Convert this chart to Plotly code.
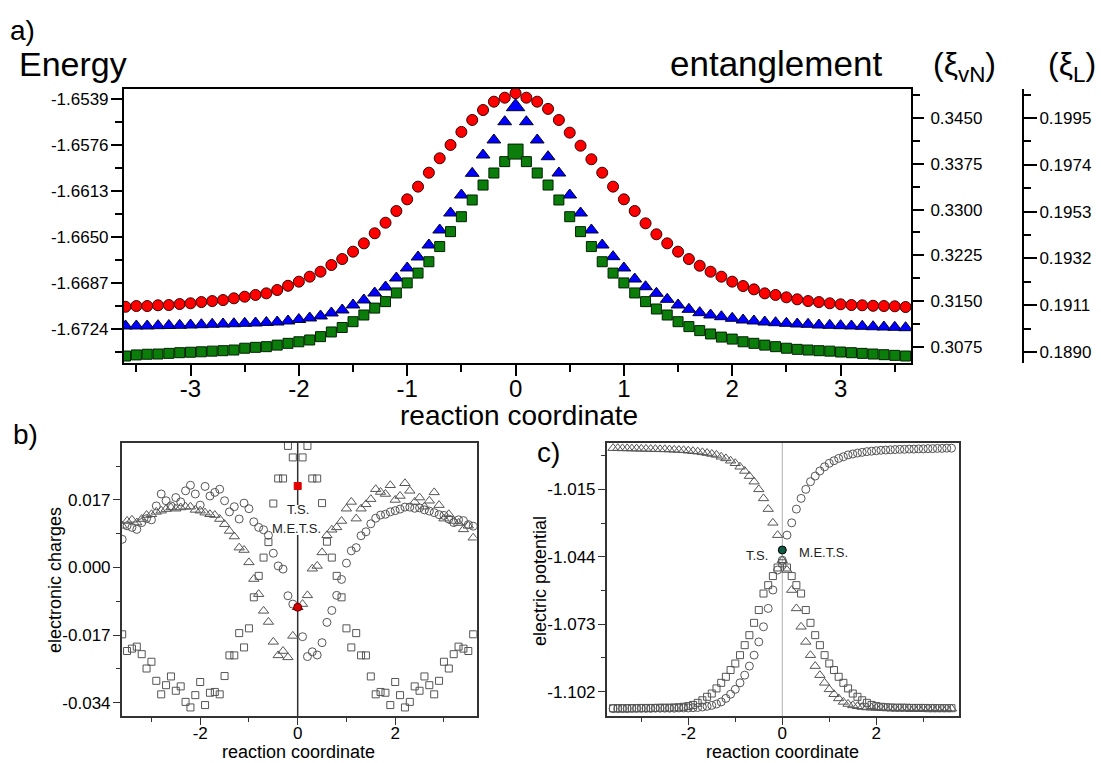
import plotly.graph_objects as go

W, H = 1101, 763
def px(v): return v / W
def py(v): return 1 - v / H

FONT = "Arial, Liberation Sans, sans-serif"

# ---------------- data ----------------
rc = [-3.6, -3.5, -3.4, -3.3, -3.2, -3.1, -3.0, -2.9, -2.8, -2.7, -2.6, -2.5, -2.4,
      -2.3, -2.2, -2.1, -2.0, -1.9, -1.8, -1.7, -1.6, -1.5, -1.4, -1.3, -1.2, -1.1,
      -1.0, -0.9, -0.8, -0.7, -0.6, -0.5, -0.4, -0.3, -0.2, -0.1, 0.0, 0.1, 0.2, 0.3,
      0.4, 0.5, 0.6, 0.7, 0.8, 0.9, 1.0, 1.1, 1.2, 1.3, 1.4, 1.5, 1.6, 1.7, 1.8, 1.9,
      2.0, 2.1, 2.2, 2.3, 2.4, 2.5, 2.6, 2.7, 2.8, 2.9, 3.0, 3.1, 3.2, 3.3, 3.4, 3.5, 3.6]

# panel a
energy = [-1.67061, -1.67055, -1.67055, -1.67049, -1.67047, -1.67039, -1.67033, -1.67023,
          -1.67015, -1.67007, -1.66993, -1.66980, -1.66966, -1.66953, -1.66926, -1.66892,
          -1.66859, -1.66819, -1.66779, -1.66725, -1.66677, -1.66618, -1.66551, -1.66470,
          -1.66385, -1.66291, -1.66197, -1.66095, -1.65983, -1.65867, -1.65760, -1.65655,
          -1.65559, -1.65479, -1.65412, -1.65380, -1.65344,
          -1.65380, -1.65412, -1.65470, -1.65559, -1.65661, -1.65766, -1.65875, -1.65983,
          -1.66095, -1.66197, -1.66291, -1.66390, -1.66478, -1.66551, -1.66618, -1.66677,
          -1.66731, -1.66779, -1.66819, -1.66859, -1.66894, -1.66921, -1.66953, -1.66966,
          -1.66985, -1.67001, -1.67015, -1.67023, -1.67033, -1.67041, -1.67047, -1.67049,
          -1.67053, -1.67055, -1.67057, -1.67063]
xi_vn = [0.31094, 0.31094, 0.31094, 0.31099, 0.31102, 0.31105, 0.31110, 0.31115, 0.31122,
         0.31127, 0.31131, 0.31138, 0.31143, 0.31151, 0.31159, 0.31176, 0.31200, 0.31225,
         0.31258, 0.31307, 0.31356, 0.31438, 0.31520, 0.31634, 0.31732, 0.31880, 0.32044,
         0.32224, 0.32420, 0.32666, 0.32944, 0.33239, 0.33594, 0.33894, 0.34140, 0.34439,
         0.34685,
         0.34439, 0.34140, 0.33866, 0.33599, 0.33239, 0.32944, 0.32666, 0.32420, 0.32229,
         0.32044, 0.31863, 0.31737, 0.31629, 0.31531, 0.31438, 0.31367, 0.31312, 0.31274,
         0.31246, 0.31220, 0.31192, 0.31176, 0.31159, 0.31148, 0.31138, 0.31127, 0.31122,
         0.31110, 0.31105, 0.31099, 0.31094, 0.31089, 0.31082, 0.31077, 0.31073, 0.31066]
xi_l = [0.18882, 0.18887, 0.18890, 0.18891, 0.18894, 0.18897, 0.18899, 0.18901, 0.18904,
        0.18906, 0.18909, 0.18917, 0.18921, 0.18924, 0.18931, 0.18939, 0.18946, 0.18954,
        0.18969, 0.18990, 0.19010, 0.19036, 0.19066, 0.19097, 0.19126, 0.19165, 0.19210,
        0.19254, 0.19305, 0.19373, 0.19440, 0.19507, 0.19582, 0.19649, 0.19703, 0.19754,
        0.19799,
        0.19754, 0.19703, 0.19649, 0.19582, 0.19507, 0.19440, 0.19373, 0.19305, 0.19254,
        0.19210, 0.19165, 0.19126, 0.19093, 0.19066, 0.19036, 0.19014, 0.18996, 0.18981,
        0.18967, 0.18958, 0.18946, 0.18939, 0.18931, 0.18924, 0.18917, 0.18912, 0.18909,
        0.18906, 0.18904, 0.18900, 0.18897, 0.18894, 0.18891, 0.18888, 0.18885, 0.18882]

energy_ticks = [-1.6724, -1.6687, -1.6650, -1.6613, -1.6576, -1.6539]
xi_vn_ticks = [0.3075, 0.3150, 0.3225, 0.3300, 0.3375, 0.3450]
xi_l_ticks = [0.1890, 0.1911, 0.1932, 0.1953, 0.1974, 0.1995]
xa_ticks = [-3, -2, -1, 0, 1, 2, 3]

# panel b (electronic charges)
charge_sq = [-0.0168, -0.0210, -0.0204, -0.0199, -0.0218, -0.0254, -0.0237, -0.0285, -0.0319,
             -0.0296, -0.0274, -0.0310, -0.0299, -0.0338, -0.0352, -0.0321, -0.0288, -0.0346,
             -0.0315, -0.0313, -0.0319, -0.0273, -0.0221, -0.0221, -0.0165, -0.0201, -0.0153,
             -0.0075, -0.0021, 0.0025, 0.0064, 0.0161, 0.0224, 0.0224, 0.0306, 0.0277, 0.0205,
             0.0277, 0.0306, 0.0224, 0.0224, 0.0162, 0.0065, 0.0025, -0.0021, -0.0075, -0.0153,
             -0.0201, -0.0165, -0.0221, -0.0221, -0.0274, -0.0319, -0.0313, -0.0315, -0.0346,
             -0.0288, -0.0321, -0.0352, -0.0338, -0.0299, -0.0310, -0.0274, -0.0296, -0.0319,
             -0.0285, -0.0237, -0.0254, -0.0218, -0.0199, -0.0204, -0.0210, -0.0168]
charge_tri = [0.0105, 0.0117, 0.0120, 0.0113, 0.0122, 0.0132, 0.0134, 0.0140, 0.0143, 0.0147,
              0.0151, 0.0148, 0.0151, 0.0153, 0.0153, 0.0145, 0.0143, 0.0138, 0.0134, 0.0132,
              0.0122, 0.0109, 0.0092, 0.0078, 0.0050, 0.0044, 0.0013, -0.0029, -0.0067, -0.0109,
              -0.0137, -0.0187, -0.0221, -0.0210, -0.0226, -0.0172, -0.0100,
              -0.0092, -0.0070, -0.0003, 0.0004, 0.0038, 0.0081, 0.0095, 0.0101, 0.0117, 0.0148,
              0.0165, 0.0123, 0.0148, 0.0159, 0.0172, 0.0197, 0.0190, 0.0185, 0.0207, 0.0170,
              0.0180, 0.0212, 0.0193, 0.0165, 0.0176, 0.0153, 0.0168, 0.0189, 0.0157, 0.0123,
              0.0134, 0.0117, 0.0112, 0.0096, 0.0105, 0.0075]
charge_circ = [0.0071, 0.0105, 0.0101, 0.0096, 0.0113, 0.0123, 0.0120, 0.0155, 0.0185, 0.0168,
               0.0155, 0.0176, 0.0165, 0.0193, 0.0207, 0.0185, 0.0157, 0.0204, 0.0180, 0.0189,
               0.0197, 0.0168, 0.0140, 0.0153, 0.0122, 0.0162, 0.0148, 0.0115, 0.0101, 0.0095,
               0.0081, 0.0036, 0.0004, -0.0004, -0.0071, -0.0092, -0.0100,
               -0.0174, -0.0224, -0.0212, -0.0220, -0.0189, -0.0138, -0.0108, -0.0070, -0.0030,
               0.0011, 0.0042, 0.0050, 0.0080, 0.0090, 0.0110, 0.0124, 0.0132, 0.0134, 0.0140,
               0.0143, 0.0147, 0.0152, 0.0152, 0.0149, 0.0150, 0.0145, 0.0142, 0.0138, 0.0133,
               0.0131, 0.0122, 0.0113, 0.0120, 0.0118, 0.0108, 0.0104]
charge_ticks = [-0.034, -0.017, 0.0, 0.017]

# panel c (electric potential)
pot_circ = [-1.1093, -1.1093, -1.1093, -1.1093, -1.1092, -1.1092, -1.1092, -1.1092, -1.1092,
            -1.1091, -1.1091, -1.1091, -1.1091, -1.1091, -1.1090, -1.1090, -1.1090, -1.1089,
            -1.1088, -1.1086, -1.1083, -1.1079, -1.1073, -1.1064, -1.1049, -1.1031, -1.1010,
            -1.0982, -1.0949, -1.0910, -1.0863, -1.0806, -1.0741, -1.0662, -1.0583, -1.0497,
            -1.0455,
            -1.0347, -1.0294, -1.0235, -1.0189, -1.0150, -1.0117, -1.0093, -1.0071, -1.0053,
            -1.0038, -1.0027, -1.0017, -1.0010, -1.0002, -0.9998, -0.9994, -0.9991, -0.9988,
            -0.9986, -0.9984, -0.9982, -0.9981, -0.9980, -0.9979, -0.9978, -0.9978, -0.9977,
            -0.9977, -0.9976, -0.9976, -0.9975, -0.9975, -0.9974, -0.9974, -0.9973, -0.9973]
pot_tri = [-0.9973, -0.9973, -0.9974, -0.9974, -0.9975, -0.9975, -0.9976, -0.9976, -0.9977,
           -0.9977, -0.9978, -0.9978, -0.9979, -0.9980, -0.9981, -0.9982, -0.9984, -0.9986,
           -0.9988, -0.9991, -0.9994, -0.9998, -1.0002, -1.0010, -1.0017, -1.0027, -1.0038,
           -1.0053, -1.0071, -1.0093, -1.0117, -1.0150, -1.0189, -1.0235, -1.0294, -1.0347,
           -1.0455,
           -1.0497, -1.0583, -1.0662, -1.0741, -1.0806, -1.0863, -1.0910, -1.0949, -1.0982,
           -1.1010, -1.1031, -1.1049, -1.1064, -1.1073, -1.1079, -1.1083, -1.1086, -1.1088,
           -1.1089, -1.1090, -1.1090, -1.1090, -1.1091, -1.1091, -1.1091, -1.1091, -1.1091,
           -1.1092, -1.1092, -1.1092, -1.1092, -1.1092, -1.1093, -1.1093, -1.1093, -1.1093]
pot_sq = [-1.1091, -1.1091, -1.1091, -1.1091, -1.1091, -1.1091, -1.1090, -1.1090, -1.1090,
          -1.1090, -1.1089, -1.1089, -1.1089, -1.1088, -1.1087, -1.1085, -1.1082, -1.1077,
          -1.1068, -1.1057, -1.1042, -1.1028, -1.1006, -1.0982, -1.0956, -1.0927, -1.0899,
          -1.0863, -1.0820, -1.0777, -1.0724, -1.0669, -1.0598, -1.0562, -1.0523, -1.0486,
          -1.0468,
          -1.0486, -1.0523, -1.0562, -1.0598, -1.0669, -1.0724, -1.0777, -1.0820, -1.0863,
          -1.0899, -1.0927, -1.0956, -1.0982, -1.1006, -1.1028, -1.1042, -1.1057, -1.1068,
          -1.1077, -1.1082, -1.1085, -1.1087, -1.1088, -1.1089, -1.1089, -1.1089, -1.1090,
          -1.1090, -1.1090, -1.1090, -1.1091, -1.1091, -1.1091, -1.1091, -1.1091, -1.1091]
ts_c = -1.0411
pot_ticks = [-1.102, -1.073, -1.044, -1.015]
bc_xticks = [-2, 0, 2]

# ---------------- figure ----------------
fig = go.Figure()

center = [abs(v) < 1e-9 for v in rc]

# panel a
fig.add_trace(go.Scatter(x=rc, y=energy, mode="markers", xaxis="x", yaxis="y",
                         marker=dict(symbol="circle", size=11, color="#ff0000", opacity=1,
                                     line=dict(color="#3a0000", width=1))))
fig.add_trace(go.Scatter(x=rc, y=xi_vn, mode="markers", xaxis="x", yaxis="y2",
                         marker=dict(symbol="triangle-up", size=[16 if c else 12 for c in center],
                                     color="#0000ff", opacity=1,
                                     line=dict(color="#000030", width=1))))
fig.add_trace(go.Scatter(x=rc, y=xi_l, mode="markers", xaxis="x", yaxis="y3",
                         marker=dict(symbol="square", size=[15 if c else 10 for c in center],
                                     color="#0a7d0a", opacity=1,
                                     line=dict(color="#002200", width=1))))

GRAY = "#555555"
def sym(base):
    return [base if c else base + "-open" for c in center]
def col(red):
    return [red if c else GRAY for c in center]

# panel b
fig.add_trace(go.Scatter(x=rc, y=charge_sq, mode="markers", xaxis="x2", yaxis="y5",
                         marker=dict(symbol=sym("square"), size=7, color=col("#e00000"), opacity=1,
                                     line=dict(color=col("#e00000"), width=1))))
fig.add_trace(go.Scatter(x=rc, y=charge_tri, mode="markers", xaxis="x2", yaxis="y5",
                         marker=dict(symbol=sym("triangle-up"), size=9, color=col("#d00000"),
                                     opacity=1, line=dict(color=col("#700000"), width=1))))
fig.add_trace(go.Scatter(x=rc, y=charge_circ, mode="markers", xaxis="x2", yaxis="y5",
                         marker=dict(symbol=sym("circle"), size=8, color=col("#d00000"),
                                     opacity=1, line=dict(color=col("#700000"), width=1))))

# panel c
fig.add_trace(go.Scatter(x=rc, y=pot_sq, mode="markers", xaxis="x3", yaxis="y6",
                         marker=dict(symbol="square-open", size=7, color=GRAY, opacity=1,
                                     line=dict(color=GRAY, width=1))))
fig.add_trace(go.Scatter(x=rc, y=pot_tri, mode="markers", xaxis="x3", yaxis="y6",
                         marker=dict(symbol="triangle-up-open", size=9, color=GRAY, opacity=1,
                                     line=dict(color=GRAY, width=1))))
fig.add_trace(go.Scatter(x=rc, y=pot_circ, mode="markers", xaxis="x3", yaxis="y6",
                         marker=dict(symbol="circle-open", size=8, color=GRAY, opacity=1,
                                     line=dict(color=GRAY, width=1))))
fig.add_trace(go.Scatter(x=[0], y=[ts_c], mode="markers", xaxis="x3", yaxis="y6",
                         marker=dict(symbol="circle", size=8, color="#0f5a45", opacity=1,
                                     line=dict(color="#000000", width=1))))

# ---------------- axes ----------------
xa_dom = [px(124), px(911)]
ya_dom = [py(362.5), py(88.5)]
xb_dom = [px(121.7), px(476.7)]
xc_dom = [px(606.7), px(959)]
ybc_dom = [py(716), py(442.7)]

yb_range = [-0.03735, 0.0314]
yc_range = [-1.11246, -0.99495]

tickA = dict(size=17, family=FONT, color="black")
tickBC = dict(size=17, family=FONT, color="black")

def fmt(v, n):
    return f"{v:.{n}f}"

fig.update_layout(
    width=W, height=H, margin=dict(l=0, r=0, t=0, b=0), autosize=False,
    paper_bgcolor="white", plot_bgcolor="white", showlegend=False,
    font=dict(family=FONT, color="black"),
    xaxis=dict(domain=xa_dom, range=[-3.614, 3.65], anchor="y",
               tickmode="array", tickvals=xa_ticks, ticktext=[str(v) for v in xa_ticks],
               ticks="outside", ticklen=11, tickwidth=2, tickcolor="black",
               minor=dict(tickmode="linear", tick0=-3.5, dtick=1, ticks="outside",
                          ticklen=7, tickwidth=2, tickcolor="black"),
               showline=True, linewidth=2, linecolor="black", mirror=True,
               showgrid=False, zeroline=False,
               tickfont=dict(size=24, family=FONT, color="black"), ticklabelstandoff=-7),
    yaxis=dict(domain=ya_dom, range=[-1.67509, -1.65306], anchor="x",
               tickmode="array", tickvals=energy_ticks, ticktext=[fmt(v, 4) for v in energy_ticks],
               ticks="outside", ticklen=11, tickwidth=2, tickcolor="black",
               minor=dict(tickmode="linear", tick0=-1.6539, dtick=0.00185, ticks="outside",
                          ticklen=7, tickwidth=2, tickcolor="black"),
               showline=True, linewidth=2, linecolor="black",
               showgrid=False, zeroline=False, tickfont=tickA, ticklabelstandoff=-1),
    yaxis2=dict(overlaying="y", side="right", anchor="x", range=[0.30496, 0.34983],
                tickmode="array", tickvals=xi_vn_ticks, ticktext=[fmt(v, 4) for v in xi_vn_ticks],
                ticks="outside", ticklen=11, tickwidth=2, tickcolor="black",
                minor=dict(tickmode="linear", tick0=0.3075, dtick=0.00375, ticks="outside",
                           ticklen=7, tickwidth=2, tickcolor="black"),
                showline=True, linewidth=2, linecolor="black",
                showgrid=False, zeroline=False, tickfont=tickA, ticklabelstandoff=3),
    yaxis3=dict(overlaying="y", side="right", anchor="free", position=px(1023),
                range=[0.18853, 0.20082],
                tickmode="array", tickvals=xi_l_ticks, ticktext=[fmt(v, 4) for v in xi_l_ticks],
                ticks="outside", ticklen=13, tickwidth=2, tickcolor="black",
                minor=dict(tickmode="linear", tick0=0.1890, dtick=0.00105, ticks="outside",
                           ticklen=7, tickwidth=2, tickcolor="black"),
                showline=True, linewidth=2, linecolor="black",
                showgrid=False, zeroline=False, tickfont=tickA, ticklabelstandoff=-1),
    yaxis4=dict(overlaying="y", side="right", anchor="free", position=px(1023),
                range=[0.18853, 0.20082],
                tickmode="array", tickvals=xi_l_ticks, showticklabels=False,
                ticks="inside", ticklen=13, tickwidth=2, tickcolor="black",
                minor=dict(tickmode="linear", tick0=0.1890, dtick=0.00105, ticks="inside",
                           ticklen=7, tickwidth=2, tickcolor="black"),
                showline=False, showgrid=False, zeroline=False),
    xaxis2=dict(domain=xb_dom, range=[-3.610, 3.672], anchor="y5",
                tickmode="array", tickvals=bc_xticks, ticktext=[str(v) for v in bc_xticks],
                ticks="outside", ticklen=7, tickwidth=1, tickcolor="#333",
                minor=dict(tickmode="linear", tick0=-3, dtick=2, ticks="outside",
                           ticklen=4, tickwidth=1, tickcolor="#333"),
                showline=True, linewidth=1.5, linecolor="#333", mirror=True,
                showgrid=False, zeroline=False, tickfont=tickBC, ticklabelstandoff=-6),
    yaxis5=dict(domain=ybc_dom, range=yb_range, anchor="x2",
                tickmode="array", tickvals=charge_ticks, ticktext=[fmt(v, 3) for v in charge_ticks],
                ticks="outside", ticklen=7, tickwidth=1, tickcolor="#333",
                minor=dict(tickmode="linear", tick0=-0.0255, dtick=0.017, ticks="outside",
                           ticklen=4, tickwidth=1, tickcolor="#333"),
                showline=True, linewidth=1.5, linecolor="#333", mirror=True,
                showgrid=False, zeroline=False, tickfont=tickBC, ticklabelstandoff=-1),
    xaxis3=dict(domain=xc_dom, range=[-3.736, 3.76], anchor="y6",
                tickmode="array", tickvals=bc_xticks, ticktext=[str(v) for v in bc_xticks],
                ticks="outside", ticklen=7, tickwidth=1, tickcolor="#333",
                minor=dict(tickmode="linear", tick0=-3, dtick=2, ticks="outside",
                           ticklen=4, tickwidth=1, tickcolor="#333"),
                showline=True, linewidth=1.5, linecolor="#333", mirror=True,
                showgrid=False, zeroline=False, tickfont=tickBC, ticklabelstandoff=-6),
    yaxis6=dict(domain=ybc_dom, range=yc_range, anchor="x3",
                tickmode="array", tickvals=pot_ticks, ticktext=[fmt(v, 3) for v in pot_ticks],
                ticks="outside", ticklen=7, tickwidth=1, tickcolor="#333",
                minor=dict(tickmode="linear", tick0=-1.0875, dtick=0.029, ticks="outside",
                           ticklen=4, tickwidth=1, tickcolor="#333"),
                showline=True, linewidth=1.5, linecolor="#333", mirror=True,
                showgrid=False, zeroline=False, tickfont=tickBC, ticklabelstandoff=-1),
)

# reference lines at the transition state
gap_lo, gap_hi = 0.0082, 0.0157
fig.add_shape(type="line", xref="x2", yref="y5", x0=0, x1=0, y0=yb_range[0], y1=gap_lo,
              line=dict(color="#303030", width=1.5), layer="below")
fig.add_shape(type="line", xref="x2", yref="y5", x0=0, x1=0, y0=gap_hi, y1=yb_range[1],
              line=dict(color="#303030", width=1.5), layer="below")
fig.add_shape(type="line", xref="x3", yref="y6 domain", x0=0, x1=0, y0=0, y1=1,
              line=dict(color="#b0b0b0", width=1), layer="below")

def ann(text, x, y, size, angle=0, color="black"):
    fig.add_annotation(text=text, x=px(x), y=py(y), xref="paper", yref="paper",
                       xanchor="center", yanchor="middle", showarrow=False,
                       textangle=angle, font=dict(size=size, family=FONT, color=color))

ann("a)", 22, 30, 28)
ann("b)", 25, 434, 28)
ann("c)", 548, 452, 28)
ann("Energy", 73, 64, 34)
ann("entanglement", 776, 64, 35)
ann("(ξ<sub>vN</sub>)", 964, 66, 32)
ann("(ξ<sub>L</sub>)", 1072, 66, 32)
ann("reaction coordinate", 519, 415, 28)
ann("reaction coordinate", 298.5, 752, 18)
ann("reaction coordinate", 782, 752, 18)
ann("electronic charges", 55, 580, 18, angle=-90)
ann("electric potential", 540, 581, 18, angle=-90)
ann("T.S.", 297.7, 510, 13, color="#222")
ann("M.E.T.S.", 296.7, 528.3, 13, color="#222")
ann("T.S.", 757, 555, 13, color="#222")
ann("M.E.T.S.", 823.5, 552, 13, color="#222")

fig.write_html("out.html", config={"displayModeBar": False})

# remove the default page margin so the figure sits at the window's top-left corner
with open("out.html", "r", encoding="utf-8") as f:
    page = f.read()
page = page.replace("<head>", "<head><style>html,body{margin:0;padding:0;overflow:hidden;}</style>", 1)
with open("out.html", "w", encoding="utf-8") as f:
    f.write(page)
